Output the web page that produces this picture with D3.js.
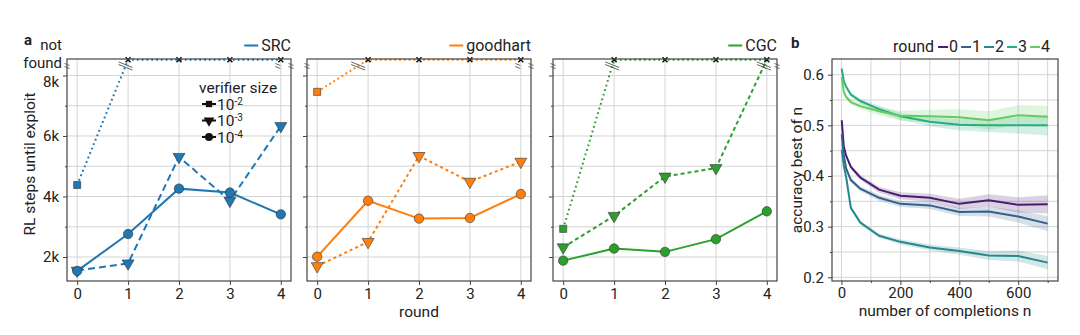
<!DOCTYPE html>
<html>
<head>
<meta charset="utf-8">
<script src="https://cdn.jsdelivr.net/npm/d3@7"></script>
<style>
    body { margin: 0; background: #fff; }
    text { font-family: Roboto, "DejaVu Sans", sans-serif; fill: #222; }
</style>
</head>
<body>
<div id="chart-container"></div>
<script>
// ---- panel a data (RL steps until exploit, null = not found) ----
const rounds = [0, 1, 2, 3, 4];
const srcSquare = [4380, null, null, null, null];
const srcTriangle = [1550, 1790, 5310, 3860, 6330];
const srcCircle = [1540, 2760, 4260, 4130, 3410];
const goodhartSquare = [7460, null, null, null, null];
const goodhartTriangle = [1700, 2500, 5340, 4490, 5150];
const goodhartCircle = [2010, 3860, 3270, 3290, 4080];
const cgcSquare = [2930, null, null, null, null];
const cgcTriangle = [2320, 3360, 4660, 4940, null];
const cgcCircle = [1880, 2280, 2170, 2590, 3510];
const yMajorTicks = [2000, 4000, 6000, 8000];
const yMinorTicks = [3000, 5000, 7000];
const verifierSizes = ["-2", "-3", "-4"];

// ---- panel b data (accuracy best of n) ----
const nValues = [1, 8, 16, 32, 64, 128, 200, 300, 400, 500, 600, 700];
const accRound0 = [0.510, 0.458, 0.440, 0.418, 0.397, 0.373, 0.361, 0.357, 0.345, 0.352, 0.343, 0.344];
const accRound1 = [0.482, 0.440, 0.415, 0.392, 0.375, 0.357, 0.345, 0.342, 0.329, 0.330, 0.320, 0.306];
const accRound2 = [0.452, 0.420, 0.398, 0.337, 0.308, 0.282, 0.270, 0.259, 0.252, 0.243, 0.242, 0.229];
const accRound3 = [0.612, 0.588, 0.576, 0.561, 0.548, 0.532, 0.518, 0.507, 0.501, 0.500, 0.500, 0.500];
const accRound4 = [0.595, 0.566, 0.556, 0.546, 0.538, 0.528, 0.519, 0.518, 0.516, 0.510, 0.520, 0.517];
const bandRound0 = [0.002, 0.003, 0.003, 0.004, 0.005, 0.006, 0.007, 0.008, 0.010, 0.012, 0.015, 0.018];
const bandRound1 = [0.002, 0.003, 0.003, 0.004, 0.005, 0.006, 0.006, 0.007, 0.008, 0.010, 0.012, 0.015];
const bandRound2 = [0.002, 0.003, 0.003, 0.003, 0.004, 0.004, 0.005, 0.006, 0.007, 0.009, 0.011, 0.013];
const bandRound3 = [0.002, 0.003, 0.003, 0.004, 0.005, 0.006, 0.007, 0.009, 0.011, 0.013, 0.016, 0.020];
const bandRound4 = [0.002, 0.003, 0.004, 0.005, 0.006, 0.008, 0.010, 0.013, 0.016, 0.018, 0.020, 0.021];
const roundLabels = ["0", "1", "2", "3", "4"];
const bXTicks = [0, 200, 400, 600];
const bXMinor = [100, 300, 500, 700];
const bYTicks = [0.2, 0.3, 0.4, 0.5, 0.6];
const bYMinor = [0.25, 0.35, 0.45, 0.55];

const chartWidth = 1080;
const chartHeight = 335;
const frameTop = 59;
const frameBottom = 281;
const NOT_FOUND = 8520;
const gridColor = "#d4d4d4";
const frameColor = "#444";
const tickFont = "15px";
const roundColors = [0.08, 0.3, 0.47, 0.62, 0.76].map(t => d3.interpolateViridis(t));

const panelsA = [
    {name: "SRC", color: "#1f77b4", left: 67, square: srcSquare, triangle: srcTriangle, circle: srcCircle, triDash: "7,4"},
    {name: "goodhart", color: "#ff7f0e", left: 307, square: goodhartSquare, triangle: goodhartTriangle, circle: goodhartCircle, triDash: "3,3"},
    {name: "CGC", color: "#2ca02c", left: 553, square: cgcSquare, triangle: cgcTriangle, circle: cgcCircle, triDash: "4,3"}
];

const svg = d3.select("#chart-container").append("svg")
    .attr("width", chartWidth)
    .attr("height", chartHeight);

/**
 * Small double stroke that marks a break of the axis / line
 */
function drawBreak(g, x, y, half, gap) {
    [-gap / 2, gap / 2].forEach(off => {
        g.append("line")
            .attr("x1", x - half).attr("y1", y + off - half * 0.4)
            .attr("x2", x + half).attr("y2", y + off + half * 0.4)
            .attr("stroke", "#555").attr("stroke-width", 0.9);
    });
}

function markerPath(kind, size) {
    const type = kind === "square" ? d3.symbolSquare : kind === "triangle" ? d3.symbolTriangle : d3.symbolCircle;
    return d3.symbol().type(type).size(size)();
}

function styleTicks(g) {
    g.selectAll(".domain").remove();
    g.selectAll(".tick line").attr("stroke", frameColor);
    g.selectAll(".tick text")
        .style("font-size", tickFont)
        .style("font-family", "Roboto, sans-serif")
        .attr("fill", "#222");
}

/**
 * Draw one panel of the RL steps chart
 */
function drawPanelA(panel, index) {
    const xScale = d3.scaleLinear().domain([-0.2, 4.2]).range([panel.left, panel.left + 224]);
    const yScale = d3.scaleLinear().domain([1207, 8545]).range([frameBottom, frameTop]);
    const g = svg.append("g");

    // grid
    g.selectAll(".gy").data(yMajorTicks.concat(yMinorTicks)).enter().append("line")
        .attr("x1", xScale.range()[0]).attr("x2", xScale.range()[1])
        .attr("y1", d => yScale(d)).attr("y2", d => yScale(d))
        .attr("stroke", gridColor).attr("stroke-width", 1);
    g.selectAll(".gx").data(rounds).enter().append("line")
        .attr("x1", d => xScale(d)).attr("x2", d => xScale(d))
        .attr("y1", frameTop).attr("y2", frameBottom)
        .attr("stroke", gridColor).attr("stroke-width", 1);

    // axes
    g.append("g")
        .attr("transform", `translate(0, ${frameBottom})`)
        .call(d3.axisBottom(xScale).tickValues(rounds).tickSize(4).tickPadding(3).tickFormat(d3.format("d")));
    const yAxis = g.append("g")
        .attr("transform", `translate(${panel.left}, 0)`)
        .call(d3.axisLeft(yScale).tickValues(yMajorTicks).tickSize(4).tickPadding(4)
            .tickFormat(d => index === 0 ? (d / 1000) + "k" : ""));
    g.append("g")
        .attr("transform", `translate(${panel.left}, 0)`)
        .call(d3.axisLeft(yScale).tickValues(yMinorTicks).tickSize(2).tickFormat(""));
    styleTicks(g);
    yAxis.selectAll(".tick text").filter(d => d === 8000).attr("dy", "0.72em");

    // series
    const series = [
        {kind: "square", values: panel.square, dash: "1.8,3", size: 50},
        {kind: "triangle", values: panel.triangle, dash: panel.triDash, size: 62},
        {kind: "circle", values: panel.circle, dash: null, size: 70}
    ];
    const line = d3.line()
        .x(d => xScale(d.r))
        .y(d => yScale(d.v === null ? NOT_FOUND : d.v));

    series.forEach(s => {
        const pts = rounds.map((r, i) => ({r: r, v: s.values[i]}));
        g.append("path")
            .datum(pts)
            .attr("d", line)
            .attr("fill", "none")
            .attr("stroke", panel.color)
            .attr("stroke-width", 2)
            .attr("stroke-dasharray", s.dash);

        // break marks where a line jumps to "not found"
        for (let i = 0; i < pts.length - 1; i++) {
            if ((pts[i].v === null) !== (pts[i + 1].v === null)) {
                const a = pts[i].v === null ? pts[i + 1] : pts[i];
                const b = pts[i].v === null ? pts[i] : pts[i + 1];
                const y0 = yScale(a.v), y1 = yScale(NOT_FOUND);
                const t = (y0 - 66) / (y0 - y1);
                const x = xScale(a.r) + t * (xScale(b.r) - xScale(a.r));
                drawBreak(g, x, 66, 7, 2.6);
            }
        }

        g.selectAll(".m-" + s.kind).data(pts.filter(d => d.v !== null)).enter().append("path")
            .attr("d", markerPath(s.kind, s.size))
            .attr("transform", d => `translate(${xScale(d.r)}, ${yScale(d.v)})` + (s.kind === "triangle" ? " rotate(180)" : ""))
            .attr("fill", panel.color)
            .attr("stroke", "#333")
            .attr("stroke-width", 0.6);
    });

    // not found crosses
    const notFoundRounds = rounds.filter((r, i) => series.some(s => s.values[i] === null));
    notFoundRounds.forEach(r => {
        const x = xScale(r), y = yScale(NOT_FOUND);
        g.append("path")
            .attr("d", `M${x - 2.5},${y - 2.5}L${x + 2.5},${y + 2.5}M${x - 2.5},${y + 2.5}L${x + 2.5},${y - 2.5}`)
            .attr("stroke", "#111").attr("stroke-width", 1.5);
    });

    // frame
    g.append("rect")
        .attr("x", panel.left).attr("y", frameTop)
        .attr("width", 224).attr("height", frameBottom - frameTop)
        .attr("fill", "none").attr("stroke", frameColor).attr("stroke-width", 1.2);

    // spine break marks
    [panel.left, panel.left + 224].forEach(x => drawBreak(g, x, 66, 2.5, 3));
    drawBreak(g, xScale(4) - 3, 66, 2.5, 3);

    // legend entry
    const label = g.append("text")
        .attr("x", panel.left + 224).attr("y", 51)
        .attr("text-anchor", "end")
        .style("font-size", "16px")
        .text(panel.name);
    const w = label.node().getComputedTextLength();
    g.append("line")
        .attr("x1", panel.left + 224 - w - 17).attr("x2", panel.left + 224 - w - 3)
        .attr("y1", 45.5).attr("y2", 45.5)
        .attr("stroke", panel.color).attr("stroke-width", 2);
}

panelsA.forEach(drawPanelA);

// labels of panel a
svg.append("text").attr("x", 24).attr("y", 45).style("font-size", "15px").style("font-weight", "bold").text("a");
svg.append("text").attr("x", 62).attr("y", 50).attr("text-anchor", "end").style("font-size", "15px").text("not");
svg.append("text").attr("x", 62).attr("y", 68).attr("text-anchor", "end").style("font-size", "15px").text("found");
svg.append("text")
    .attr("transform", "translate(35, 164) rotate(-90)")
    .attr("text-anchor", "middle")
    .style("font-size", "15.5px")
    .text("RL steps until exploit");
svg.append("text").attr("x", 419).attr("y", 317).attr("text-anchor", "middle").style("font-size", "15.5px").text("round");

// verifier size legend
const vLegend = svg.append("g");
vLegend.append("text").attr("x", 199).attr("y", 93).style("font-size", "15.5px").text("verifier size");
["square", "triangle", "circle"].forEach((kind, i) => {
    const y = 104 + i * 16.5;
    vLegend.append("line").attr("x1", 202).attr("x2", 216).attr("y1", y).attr("y2", y)
        .attr("stroke", "#111").attr("stroke-width", 2);
    vLegend.append("path")
        .attr("d", markerPath(kind, kind === "square" ? 40 : 50))
        .attr("transform", `translate(209, ${y})` + (kind === "triangle" ? " rotate(180)" : ""))
        .attr("fill", "#111");
    const t = vLegend.append("text").attr("x", 217).attr("y", y + 5.5).style("font-size", "15.5px");
    t.append("tspan").text("10");
    t.append("tspan").attr("dy", -5).style("font-size", "10px").text(verifierSizes[i]);
});

/**
 * Draw panel b: accuracy of best of n
 */
function drawPanelB() {
    const left = 832, right = 1058;
    const xScale = d3.scaleLinear().domain([-32, 735]).range([left, right]);
    const yScale = d3.scaleLinear().domain([0.1927, 0.631]).range([frameBottom, frameTop]);
    const g = svg.append("g");

    g.selectAll(".gy").data(bYTicks.concat(bYMinor)).enter().append("line")
        .attr("x1", left).attr("x2", right)
        .attr("y1", d => yScale(d)).attr("y2", d => yScale(d))
        .attr("stroke", gridColor);
    g.selectAll(".gx").data(bXTicks.concat(bXMinor)).enter().append("line")
        .attr("x1", d => xScale(d)).attr("x2", d => xScale(d))
        .attr("y1", frameTop).attr("y2", frameBottom)
        .attr("stroke", gridColor);

    g.append("g").attr("transform", `translate(0, ${frameBottom})`)
        .call(d3.axisBottom(xScale).tickValues(bXTicks).tickSize(4).tickPadding(2));
    g.append("g").attr("transform", `translate(0, ${frameBottom})`)
        .call(d3.axisBottom(xScale).tickValues(bXMinor).tickSize(2).tickFormat(""));
    g.append("g").attr("transform", `translate(${left}, 0)`)
        .call(d3.axisLeft(yScale).tickValues(bYTicks).tickSize(4).tickPadding(4).tickFormat(d3.format(".1f")));
    g.append("g").attr("transform", `translate(${left}, 0)`)
        .call(d3.axisLeft(yScale).tickValues(bYMinor).tickSize(2).tickFormat(""));
    styleTicks(g);

    const accs = [accRound0, accRound1, accRound2, accRound3, accRound4];
    const bands = [bandRound0, bandRound1, bandRound2, bandRound3, bandRound4];
    const area = d3.area()
        .x(d => xScale(d.n))
        .y0(d => yScale(d.v - d.h))
        .y1(d => yScale(d.v + d.h));
    const line = d3.line().x(d => xScale(d.n)).y(d => yScale(d.v));

    accs.forEach((acc, i) => {
        const pts = nValues.map((n, j) => ({n: n, v: acc[j], h: bands[i][j]}));
        g.append("path").datum(pts).attr("d", area)
            .attr("fill", roundColors[i]).attr("fill-opacity", 0.2);
    });
    accs.forEach((acc, i) => {
        const pts = nValues.map((n, j) => ({n: n, v: acc[j]}));
        g.append("path").datum(pts).attr("d", line)
            .attr("fill", "none").attr("stroke", roundColors[i]).attr("stroke-width", 2);
    });

    g.append("rect")
        .attr("x", left).attr("y", frameTop)
        .attr("width", right - left).attr("height", frameBottom - frameTop)
        .attr("fill", "none").attr("stroke", frameColor).attr("stroke-width", 1.2);

    svg.append("text").attr("x", 791).attr("y", 48).style("font-size", "15px").style("font-weight", "bold").text("b");
    svg.append("text")
        .attr("transform", "translate(802, 170) rotate(-90)")
        .attr("text-anchor", "middle")
        .style("font-size", "15.5px")
        .text("accuracy best of n");
    svg.append("text").attr("x", 945).attr("y", 316).attr("text-anchor", "middle")
        .style("font-size", "15.5px").text("number of completions n");

    // legend
    let lx = 893;
    const lt = svg.append("text").attr("x", lx).attr("y", 52).style("font-size", "16px").text("round");
    lx += lt.node().getComputedTextLength() + 4;
    roundLabels.forEach((lab, i) => {
        svg.append("line").attr("x1", lx).attr("x2", lx + 10).attr("y1", 47).attr("y2", 47)
            .attr("stroke", roundColors[i]).attr("stroke-width", 2);
        const t = svg.append("text").attr("x", lx + 11).attr("y", 52).style("font-size", "16px").text(lab);
        lx += 11 + t.node().getComputedTextLength() + 3;
    });
}

drawPanelB();
</script>
</body>
</html>
